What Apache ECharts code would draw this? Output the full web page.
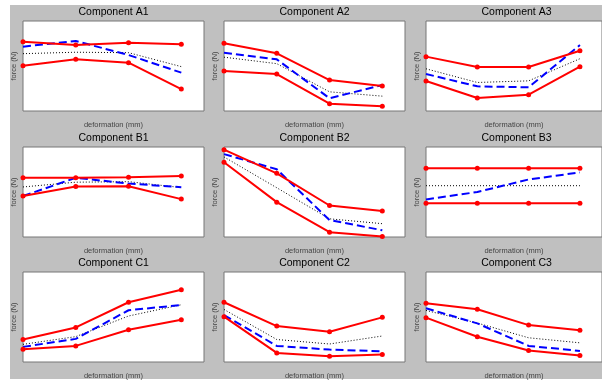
<!DOCTYPE html>
<html><head><meta charset="utf-8">
<script src="https://cdn.jsdelivr.net/npm/echarts@6/dist/echarts.min.js"></script>
<style>html,body{margin:0;padding:0;background:#fff}#c{width:602px;height:382px}</style>
</head><body><div id="c"></div>
<script>
const titles = ['Component A1','Component A2','Component A3','Component B1','Component B2','Component B3','Component C1','Component C2','Component C3'];
const xLabel = 'deformation (mm)';
const yLabel = 'force (N)';
const xValues = [0, 1, 2, 3];
const redUpper = [
  [77.0, 73.3, 75.9, 74.1],
  [75.2, 64.1, 34.4, 27.8],
  [60.4, 48.9, 48.9, 67.0],
  [65.8, 65.8, 66.5, 67.7],
  [97.0, 70.7, 35.0, 28.9],
  [76.3, 76.3, 76.3, 76.3],
  [25.0, 38.4, 66.4, 80.2],
  [66.4, 39.9, 33.6, 49.6],
  [65.3, 58.6, 41.0, 35.4]
];
const redLower = [
  [50.4, 57.4, 53.7, 24.4],
  [44.4, 41.1, 8.1, 5.2],
  [33.3, 14.4, 18.1, 49.3],
  [45.5, 56.0, 56.4, 42.1],
  [83.1, 38.7, 5.3, 0.6],
  [37.6, 37.6, 37.6, 37.6],
  [14.2, 17.9, 35.8, 47.0],
  [50.4, 10.1, 6.3, 8.2],
  [49.3, 28.0, 12.7, 7.1]
];
const blueDash = [
  [71.5, 77.8, 62.2, 42.6],
  [64.8, 57.4, 14.1, 28.9],
  [41.1, 27.4, 26.3, 73.3],
  [45.5, 65.8, 59.4, 55.3],
  [92.1, 75.2, 18.8, 7.5],
  [41.7, 50.0, 63.9, 71.8],
  [16.8, 25.7, 57.5, 63.4],
  [52.2, 17.9, 13.8, 11.9],
  [59.7, 42.9, 17.9, 12.3]
];
const blackDot = [
  [63.7, 65.3, 64.8, 49.3],
  [59.8, 52.6, 21.3, 16.5],
  [46.9, 31.7, 33.5, 58.1],
  [55.6, 60.9, 61.5, 54.9],
  [89.0, 54.7, 20.2, 14.8],
  [57.0, 57.0, 57.0, 57.0],
  [19.6, 28.2, 51.1, 63.6],
  [58.4, 25.0, 20.0, 28.9],
  [57.3, 43.3, 26.9, 21.3]
];

const colLeft = [23, 224, 426];
const rowTop = [21, 147, 272];
const W = 181, H = 90;
const font = 'Liberation Sans, Arial, sans-serif';

const grid = [], xAxis = [], yAxis = [], title = [], series = [];
for (let i = 0; i < 9; i++) {
  const r = Math.floor(i / 3), c = i % 3;
  grid.push({left: colLeft[c], top: rowTop[r], width: W, height: H, show: true,
    backgroundColor: '#fff', borderColor: '#777', borderWidth: 1, containLabel: false});
  xAxis.push({type: 'value', gridIndex: i, min: 0, max: 3.43,
    axisLine: {show: false}, axisTick: {show: false}, axisLabel: {show: false}, splitLine: {show: false},
    name: xLabel, nameLocation: 'middle', nameGap: 10,
    nameTextStyle: {fontSize: 7.5, color: '#444', fontFamily: font}});
  yAxis.push({type: 'value', gridIndex: i, min: 0, max: 100,
    axisLine: {show: false}, axisTick: {show: false}, axisLabel: {show: false}, splitLine: {show: false},
    name: yLabel, nameLocation: 'middle', nameGap: 5,
    nameTextStyle: {fontSize: 7.5, color: '#444', fontFamily: font}});
  title.push({text: titles[i], left: colLeft[c] + W / 2, top: rowTop[r] - 14, textAlign: 'center', padding: 0,
    textStyle: {fontSize: 10.5, fontWeight: 'normal', color: '#000', fontFamily: font}});
  const mk = arr => xValues.map((x, j) => [x, arr[i][j]]);
  series.push({type: 'line', xAxisIndex: i, yAxisIndex: i, data: mk(blackDot), showSymbol: false, symbol: 'none',
    lineStyle: {color: '#000', width: 1, type: [1, 2]}, z: 2});
  series.push({type: 'line', xAxisIndex: i, yAxisIndex: i, data: mk(blueDash), showSymbol: false, symbol: 'none',
    lineStyle: {color: '#0000ff', width: 2, type: [8, 4]}, z: 3});
  series.push({type: 'line', xAxisIndex: i, yAxisIndex: i, data: mk(redLower), symbol: 'circle', symbolSize: 5,
    itemStyle: {color: '#ff0000'}, lineStyle: {color: '#ff0000', width: 2}, z: 4});
  series.push({type: 'line', xAxisIndex: i, yAxisIndex: i, data: mk(redUpper), symbol: 'circle', symbolSize: 5,
    itemStyle: {color: '#ff0000'}, lineStyle: {color: '#ff0000', width: 2}, z: 4});
}

const chart = echarts.init(document.getElementById('c'), null, {renderer: 'canvas'});
chart.setOption({
  animation: false,
  backgroundColor: '#fff',
  graphic: {elements: [{type: 'rect', z: -100, silent: true, shape: {x: 10, y: 5, width: 600, height: 374}, style: {fill: '#c0c0c0'}}]},
  title, grid, xAxis, yAxis, series
});
</script></body></html>
